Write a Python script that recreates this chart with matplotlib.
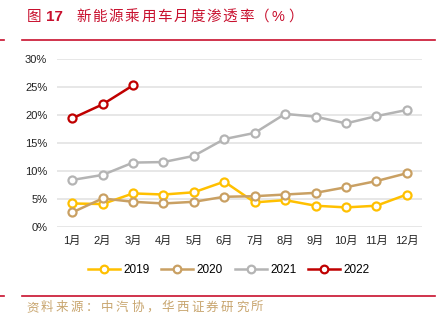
import matplotlib.pyplot as plt
from matplotlib.lines import Line2D

plt.rcParams['font.family'] = ['Liberation Sans', 'Noto Sans CJK SC', 'DejaVu Sans']

months = ['1月', '2月', '3月', '4月', '5月', '6月', '7月', '8月', '9月', '10月', '11月', '12月']
rate_2019 = [4.2, 4.1, 6.0, 5.8, 6.2, 8.1, 4.4, 4.8, 3.8, 3.5, 3.8, 5.8]
rate_2020 = [2.6, 5.1, 4.5, 4.2, 4.5, 5.4, 5.5, 5.8, 6.1, 7.1, 8.2, 9.6]
rate_2021 = [8.4, 9.3, 11.5, 11.6, 12.7, 15.7, 16.8, 20.2, 19.7, 18.5, 19.8, 20.9]
rate_2022 = [19.4, 21.9, 25.3]

series = [
    ('2019', rate_2019, '#FFC000'),
    ('2020', rate_2020, '#C9A063'),
    ('2021', rate_2021, '#B4B4B4'),
    ('2022', rate_2022, '#C00000'),
]

W, H = 441, 323
red = '#C8102E'


def spaced_text(fig, x0, y, text, pitch, **kw):
    # 逐字排布，字距固定（像素）
    x = x0
    for ch in text:
        fig.text(x / W, 1 - y / H, ch, va='center', ha='left', **kw)
        x += pitch


fig = plt.figure(figsize=(W / 100, H / 100), dpi=100)
ax = fig.add_axes([57 / W, 1 - 227 / H, 365 / W, 168 / H])

x = list(range(len(months)))
for name, vals, color in series:
    ax.plot(x[:len(vals)], vals, color=color, lw=1.8, marker='o', ms=5.8,
            mfc='white', mec=color, mew=1.6, label=name, zorder=3)

ax.set_xlim(-0.5, len(months) - 0.5)
ax.set_ylim(0, 30)
ax.set_yticks(range(0, 31, 5))
ax.set_yticklabels([f'{v}%' for v in range(0, 31, 5)])
ax.set_xticks(x)
ax.set_xticklabels(months)
ax.grid(axis='y', color='#E3E3E3', lw=1.2)
ax.set_axisbelow(True)
for s in ax.spines.values():
    s.set_visible(False)
ax.tick_params(length=0, labelsize=8, colors='#222222')
ax.tick_params(axis='y', pad=7)
ax.tick_params(axis='x', pad=6.5)

handles = [Line2D([], [], color=c, lw=1.8, marker='o', ms=5.5, mfc='white',
                  mec=c, mew=1.6) for _, _, c in series]
fig.legend(handles, [n for n, _, _ in series], loc='center',
           bbox_to_anchor=(229 / W, 1 - 270 / H), ncol=4, frameon=False,
           fontsize=8.5, handlelength=2.7, columnspacing=1.0, handletextpad=0.3)

# 标题与上下红线
fig.text(27 / W, 1 - 17 / H, '图', color=red, fontsize=10.5, va='center', ha='left')
fig.text(46 / W, 1 - 17 / H, '17', color=red, fontsize=11, fontweight='bold',
         va='center', ha='left')
spaced_text(fig, 76, 17, '新能源乘用车月度渗透率（%）', 16.3, color=red, fontsize=10.5)

for y in (40, 296):
    fig.add_artist(Line2D([22 / W, 435 / W], [1 - y / H] * 2, color=red, lw=1.2))
    fig.add_artist(Line2D([0, 4 / W], [1 - y / H] * 2, color=red, lw=1.2))

spaced_text(fig, 26, 308, '资料来源：中汽协，华西证券研究所', 15.0,
            color='#C8A56E', fontsize=9)

fig.savefig('out.png', dpi=100)
